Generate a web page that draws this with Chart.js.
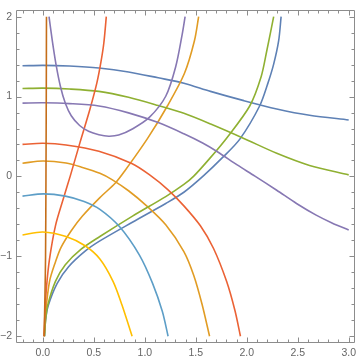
<!DOCTYPE html>
<html><head><meta charset="utf-8">
<script src="https://cdn.jsdelivr.net/npm/chart.js@4.4.1/dist/chart.umd.min.js"></script>
<style>html,body{margin:0;padding:0;background:#fff;}canvas{display:block;}</style>
</head><body>
<canvas id="c" width="360" height="361"></canvas>
<script>
// ---- tick labels ----
const xTickValues = [0, 0.5, 1, 1.5, 2, 2.5, 3];
const xTickLabels = ['0.0', '0.5', '1.0', '1.5', '2.0', '2.5', '3.0'];
const yTickValues = [-2, -1, 0, 1, 2];
const yTickLabels = ['\u22122', '\u22121', '0', '1', '2'];

// ---- series ----
const blueFlatX = [-0.2, 0.0, 0.259, 0.549, 0.840, 1.131, 1.383, 1.644, 1.971, 2.294, 2.616, 3.0];
const blueFlatY = [1.385, 1.391, 1.382, 1.357, 1.308, 1.235, 1.168, 1.065, 0.949, 0.845, 0.766, 0.707];
const blueRiseX = [0.016, 0.026, 0.052, 0.140, 0.252, 0.414, 0.559, 0.882, 1.205, 1.383, 1.577, 1.761, 1.932, 2.126, 2.206, 2.264, 2.313, 2.337];
const blueRiseY = [-2.0, -1.801, -1.618, -1.338, -1.130, -0.935, -0.807, -0.570, -0.338, -0.198, 0.010, 0.235, 0.467, 0.882, 1.162, 1.406, 1.699, 2.0];

const orangeArcX = [-0.2, 0.0, 0.227, 0.388, 0.559, 0.678, 0.840, 1.012, 1.205, 1.383, 1.480, 1.560, 1.635];
const orangeArcY = [0.166, 0.193, 0.168, 0.113, 0.040, -0.039, -0.179, -0.362, -0.606, -0.941, -1.240, -1.594, -2.0];
const orangeRiseX = [0.012, 0.026, 0.065, 0.123, 0.178, 0.278, 0.388, 0.559, 0.711, 0.801, 1.027, 1.221, 1.388, 1.486, 1.528];
const orangeRiseY = [-2.0, -1.716, -1.313, -1.070, -0.887, -0.679, -0.496, -0.265, -0.082, 0.065, 0.476, 0.882, 1.288, 1.695, 2.0];

const greenFlatX = [-0.2, 0.0, 0.259, 0.549, 0.840, 1.131, 1.383, 1.646, 1.971, 2.294, 2.616, 3.0];
const greenFlatY = [1.101, 1.106, 1.095, 1.065, 0.991, 0.888, 0.790, 0.656, 0.476, 0.290, 0.138, 0.020];
const greenRiseX = [0.016, 0.026, 0.046, 0.123, 0.220, 0.375, 0.559, 0.879, 1.205, 1.383, 1.480, 1.635, 1.802, 2.029, 2.141, 2.197, 2.264];
const greenRiseY = [-2.0, -1.801, -1.618, -1.313, -1.106, -0.911, -0.752, -0.496, -0.252, -0.100, 0.004, 0.223, 0.479, 0.882, 1.248, 1.577, 2.0];

const redArcX = [-0.2, 0.0, 0.227, 0.549, 0.872, 1.044, 1.228, 1.383, 1.545, 1.673, 1.802, 1.884, 1.938];
const redArcY = [0.402, 0.415, 0.394, 0.315, 0.162, 0.022, -0.167, -0.368, -0.618, -0.899, -1.313, -1.679, -2.0];
const redRiseX = [0.012, 0.021, 0.036, 0.065, 0.123, 0.201, 0.268, 0.365, 0.462, 0.530, 0.569, 0.598, 0.622];
const redRiseY = [-2.0, -1.679, -1.374, -1.033, -0.618, -0.277, 0.004, 0.430, 0.845, 1.174, 1.430, 1.674, 2.0];

const purpleFlatX = [-0.2, 0.0, 0.259, 0.549, 0.840, 1.131, 1.383, 1.567, 1.712, 1.906, 2.080, 2.294, 2.488, 2.681, 2.836, 3.0];
const purpleFlatY = [0.918, 0.922, 0.912, 0.882, 0.796, 0.674, 0.534, 0.418, 0.309, 0.144, 0.004, -0.173, -0.338, -0.484, -0.582, -0.671];
const purpleUX = [0.060, 0.092, 0.128, 0.172, 0.220, 0.278, 0.360, 0.448, 0.549, 0.646, 0.743, 0.882, 1.044, 1.205, 1.302, 1.366, 1.395];
const purpleUY = [2.0, 1.699, 1.406, 1.126, 0.916, 0.760, 0.638, 0.565, 0.522, 0.504, 0.518, 0.598, 0.739, 1.004, 1.370, 1.776, 2.0];

const darkOrangeX = [0.012, 0.020, 0.026, 0.030, 0.033, 0.035];
const darkOrangeY = [-2.0, -1.5, -1.0, 0.0, 1.0, 2.0];

const lightBlueArcX = [-0.2, 0.007, 0.220, 0.404, 0.559, 0.753, 0.947, 1.076, 1.172, 1.228];
const lightBlueArcY = [-0.246, -0.218, -0.246, -0.313, -0.411, -0.630, -0.984, -1.338, -1.691, -2.0];

const yellowArcX = [-0.2, 0.0, 0.227, 0.414, 0.559, 0.688, 0.775, 0.875];
const yellowArcY = [-0.732, -0.695, -0.752, -0.868, -1.033, -1.313, -1.606, -2.0];

const C = {blue:'#5E81B5', orange:'#E19C24', green:'#8FB032', red:'#EB6235', purple:'#8778B3',
           dark:'#C56E1A', light:'#5D9EC7', yellow:'#FFBF00'};

function pts(xs, ys){ return xs.map((v,i)=>({x:v, y:ys[i]})); }
const series = [
  [blueFlatX, blueFlatY, C.blue], [blueRiseX, blueRiseY, C.blue],
  [orangeArcX, orangeArcY, C.orange], [orangeRiseX, orangeRiseY, C.orange],
  [greenFlatX, greenFlatY, C.green], [greenRiseX, greenRiseY, C.green],
  [redArcX, redArcY, C.red], [redRiseX, redRiseY, C.red],
  [purpleFlatX, purpleFlatY, C.purple], [purpleUX, purpleUY, C.purple],
  [darkOrangeX, darkOrangeY, C.dark],
  [lightBlueArcX, lightBlueArcY, C.light],
  [yellowArcX, yellowArcY, C.yellow]
];
const datasets = series.map((s,i)=>({
  data: pts(s[0], s[1]), borderColor: s[2], backgroundColor: s[2],
  borderWidth: 1.6, pointRadius: 0, showLine: true, tension: 0.3, fill: false, order: -i
}));

const FRAME = '#8c8c8c';
const framePlugin = {
  id: 'frame',
  afterDatasetsDraw(chart) {
    const {ctx, chartArea: a, scales: {x, y}} = chart;
    ctx.save();
    ctx.strokeStyle = FRAME; ctx.lineWidth = 1;
    ctx.beginPath();
    const L = Math.round(a.left) + 0.5, R = Math.round(a.right) - 0.5;
    const T = Math.round(a.top) + 0.5, B = Math.round(a.bottom) - 0.5;
    ctx.moveTo(L, T); ctx.lineTo(R, T); ctx.lineTo(R, B); ctx.lineTo(L, B); ctx.closePath();
    for (let k = -2; k <= 30; k++) {
      const len = (k % 5 === 0) ? 5 : 3;
      const px = Math.round(x.getPixelForValue(k / 10)) + 0.5;
      ctx.moveTo(px, B); ctx.lineTo(px, B - len);
      ctx.moveTo(px, T); ctx.lineTo(px, T + len);
    }
    for (let k = -10; k <= 10; k++) {
      const len = (k % 5 === 0) ? 5 : 3;
      const py = Math.round(y.getPixelForValue(k / 5)) + 0.5;
      ctx.moveTo(L, py); ctx.lineTo(L + len, py);
      ctx.moveTo(R, py); ctx.lineTo(R - len, py);
    }
    ctx.stroke();
    ctx.restore();
  }
};

const tickFont = {family: 'Liberation Sans, Arial, sans-serif', size: 10.5};
new Chart(document.getElementById('c'), {
  type: 'scatter',
  data: {datasets},
  options: {
    responsive: false, animation: false, devicePixelRatio: 1,
    layout: {autoPadding: false, padding: {top: 1.7, right: 0.5, left: 0, bottom: 0}},
    plugins: {legend: {display: false}, tooltip: {enabled: false}},
    scales: {
      x: {
        type: 'linear', min: -0.264, max: 3.064,
        grid: {display: false, drawTicks: false}, border: {display: false},
        afterBuildTicks: s => { s.ticks = xTickValues.map(v => ({value: v})); },
        afterFit: s => { s.height = 18.4; },
        ticks: {font: tickFont, color: '#666', padding: 4, maxRotation: 0, autoSkip: false,
                callback: (v) => xTickLabels[xTickValues.indexOf(v)]}
      },
      y: {
        type: 'linear', min: -2.08, max: 2.08,
        grid: {display: false, drawTicks: false}, border: {display: false},
        afterBuildTicks: s => { s.ticks = yTickValues.map(v => ({value: v})); },
        afterFit: s => { s.width = 16; },
        ticks: {font: tickFont, color: '#666', padding: 4, autoSkip: false,
                callback: (v) => yTickLabels[yTickValues.indexOf(v)]}
      }
    }
  },
  plugins: [framePlugin]
});
</script>
</body></html>
